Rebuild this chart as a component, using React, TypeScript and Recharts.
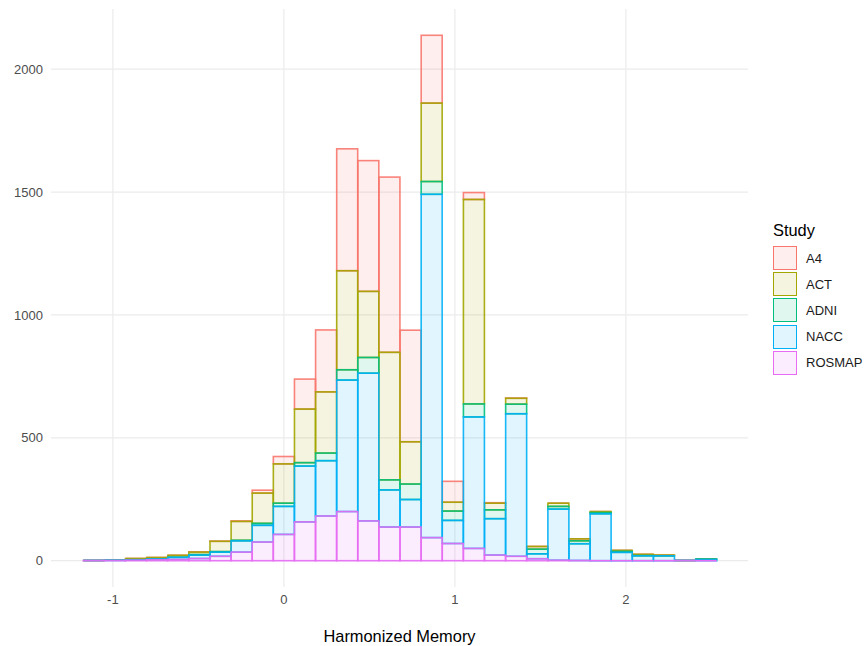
import React from 'react';
import { BarChart, Bar, XAxis, YAxis, CartesianGrid, Label } from 'recharts';

// bin centres of the histogram (30 bins)
const binCenters = [
  -1.1115, -0.988, -0.8645, -0.741, -0.6175, -0.494, -0.3705, -0.247, -0.1235, 0,
  0.1235, 0.247, 0.3705, 0.494, 0.6175, 0.741, 0.8645, 0.988, 1.1115, 1.235,
  1.3585, 1.482, 1.6055, 1.729, 1.8525, 1.976, 2.0995, 2.223, 2.3465, 2.47,
];

// counts per study in each bin
const countsA4 = [0, 0, 0, 0, 0, 1, 1, 2, 12, 30, 122, 252, 496, 532, 713, 454, 276, 85, 28, 2, 1, 0, 0, 0, 0, 0, 0, 0, 0, 0];
const countsACT = [0, 0, 5, 6, 8, 10, 42, 77, 123, 160, 218, 249, 403, 269, 519, 172, 319, 36, 832, 27, 24, 11, 13, 8, 4, 4, 5, 3, 0, 0];
const countsADNI = [0, 0, 0, 0, 0, 2, 2, 2, 8, 13, 14, 31, 42, 64, 41, 63, 52, 38, 53, 36, 39, 19, 11, 12, 5, 4, 1, 0, 0, 2];
const countsNACC = [0, 1, 2, 3, 9, 14, 17, 46, 68, 114, 227, 225, 535, 601, 151, 112, 1397, 94, 535, 148, 580, 20, 208, 68, 191, 34, 20, 20, 0, 5];
const countsROSMAP = [1, 1, 2, 4, 5, 9, 18, 35, 76, 107, 158, 182, 200, 162, 137, 137, 94, 70, 50, 23, 18, 8, 2, 1, 0, 0, 0, 0, 1, 0];

const xTicks = [-1, 0, 1, 2];
const yTicks = [0, 500, 1000, 1500, 2000];

const studies = [
  { key: 'A4', color: '#F8766D' },
  { key: 'ACT', color: '#A3A500' },
  { key: 'ADNI', color: '#00BF7D' },
  { key: 'NACC', color: '#00B0F6' },
  { key: 'ROSMAP', color: '#E76BF3' },
];

const data = binCenters.map((bin, i) => ({
  bin,
  A4: countsA4[i],
  ACT: countsACT[i],
  ADNI: countsADNI[i],
  NACC: countsNACC[i],
  ROSMAP: countsROSMAP[i],
}));

const FONT = '"Liberation Sans", Arial, Helvetica, sans-serif';

// ggplot draws empty (zero count) segments as a flat outline, so do the same
const HistRect = (props: any) => {
  const { x, y, width, height, color } = props;
  const h = Math.abs(height || 0);
  const top = height < 0 ? y + height : y;
  if (!h) {
    return <line x1={x} x2={x + width} y1={y} y2={y} stroke={color} strokeWidth={1.6} />;
  }
  return (
    <g>
      <rect x={x} y={top} width={width} height={h} fill={color} fillOpacity={0.12} stroke="none" />
      <rect x={x} y={top} width={width} height={h} fill="none" stroke={color} strokeWidth={1.6} strokeOpacity={0.9} />
    </g>
  );
};

const App: React.FC = () => {
  return (
    <div style={{ position: 'absolute', left: 0, top: 0, width: 867, height: 646, background: '#fff', fontFamily: FONT }}>
      <BarChart
        width={867}
        height={646}
        data={data}
        margin={{ top: 9, right: 119, bottom: 0, left: 0 }}
        barCategoryGap={0}
        barGap={0}
        reverseStackOrder
      >
        <CartesianGrid stroke="#ebebeb" strokeWidth={1.2} syncWithTicks />
        <XAxis
          type="number"
          dataKey="bin"
          domain={[-1.362, 2.714]}
          ticks={xTicks}
          height={59}
          axisLine={false}
          tickLine={false}
          tickMargin={2}
          tick={{ fill: '#4d4d4d', fontSize: 13, fontFamily: FONT }}
        >
          <Label
            value="Harmonized Memory"
            position="insideBottom"
            offset={4}
            style={{ fontSize: 16.4, fill: '#000', fontFamily: FONT }}
          />
        </XAxis>
        <YAxis
          type="number"
          domain={[-107, 2245]}
          ticks={yTicks}
          width={51}
          axisLine={false}
          tickLine={false}
          tick={{ fill: '#4d4d4d', fontSize: 13, fontFamily: FONT }}
        />
        {studies.map((s) => (
          <Bar
            key={s.key}
            dataKey={s.key}
            stackId="study"
            fill={s.color}
            stroke={s.color}
            isAnimationActive={false}
            shape={(p: any) => <HistRect {...p} color={s.color} />}
          />
        ))}
      </BarChart>

      {/* legend */}
      <div style={{ position: 'absolute', left: 773, top: 221, fontSize: 16.4, lineHeight: '18px', color: '#000' }}>
        Study
      </div>
      {studies.map((s, i) => (
        <div
          key={s.key}
          style={{ position: 'absolute', left: 773, top: 245 + i * 26.2, height: 26, display: 'flex', alignItems: 'center' }}
        >
          <div
            style={{
              width: 22,
              height: 22,
              border: `1.6px solid ${s.color}`,
              background: s.color + '1f',
              boxSizing: 'content-box',
            }}
          />
          <span style={{ marginLeft: 9, fontSize: 13, color: '#1a1a1a' }}>{s.key}</span>
        </div>
      ))}
    </div>
  );
};

export default App;
